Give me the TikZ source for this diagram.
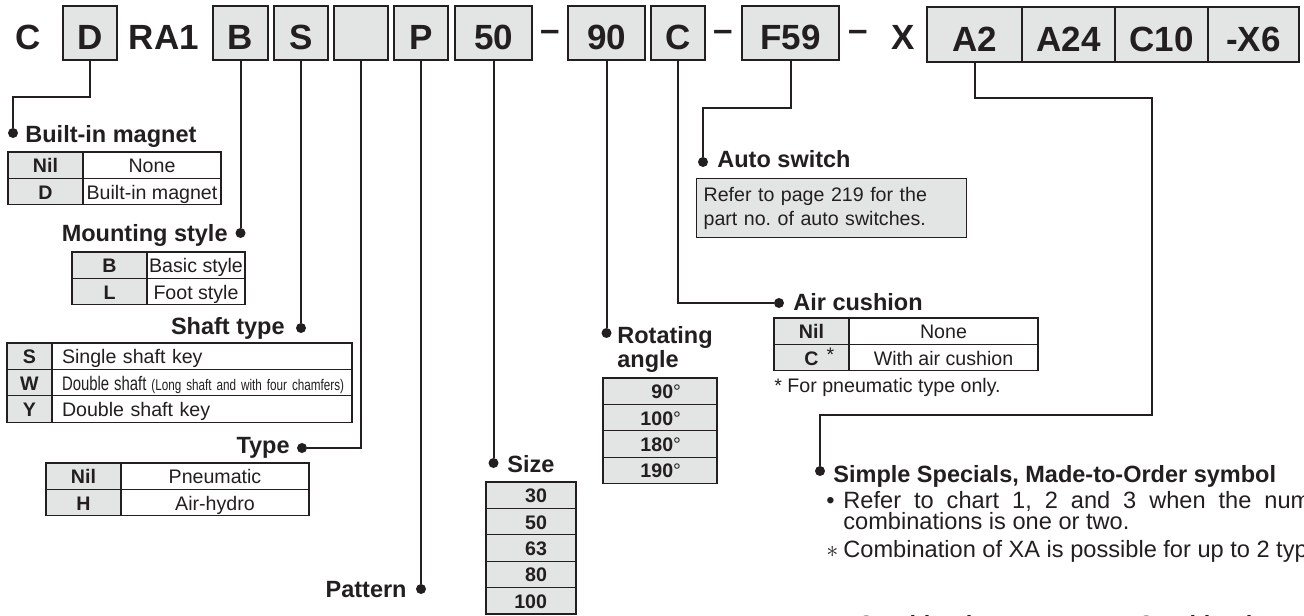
\documentclass[tikz,border=0pt]{standalone}
\usepackage{fontspec}
\setmainfont{Liberation Sans}
\usetikzlibrary{positioning}
\definecolor{smcink}{RGB}{35,31,32}
\definecolor{smcgray}{RGB}{227,228,228}
\newcommand{\codefont}{\fontsize{17.5}{20}\selectfont\bfseries}
\newcommand{\headfont}{\fontsize{11.75}{14}\selectfont\bfseries}
\newcommand{\tabfont}{\fontsize{9.8}{12}\selectfont}
\newcommand{\bodyfont}{\fontsize{11.8}{14}\selectfont}
\frenchspacing

\begin{document}
\begin{tikzpicture}[x=0.5pt, y=-0.5pt, color=smcink,
    codebox/.style={draw, fill=smcgray, line width=0.8pt, minimum height=27pt,
      inner sep=0pt, outer sep=0pt, text height=17pt, text depth=0pt, font=\codefont},
    codetxt/.style={inner sep=0pt, text height=17pt, text depth=0pt, font=\codefont},
    xcell/.style={codebox, line width=0.6pt, minimum height=27.5pt},
    conn/.style={line width=1pt},
    dot/.style={circle, fill, inner sep=0pt, minimum size=5pt},
    head/.style={inner sep=0pt, font=\headfont},
    keycell/.style={draw, fill=smcgray, line width=0.6pt, minimum height=13.2pt,
      inner sep=0pt, outer sep=0pt, text height=8.5pt, text depth=1pt, font=\tabfont\bfseries},
    valcell/.style={keycell, fill=white, font=\tabfont},
    topline/.style={line width=1.1pt},
    note/.style={inner sep=0pt, font=\tabfont, anchor=base west},
    body/.style={inner sep=0pt, font=\bodyfont, anchor=base west}
  ]
  \useasboundingbox (0,0) rectangle (1304,615);
  \clip (0,0) rectangle (1304,615);
  \fill[white] (0,0) rectangle (1304,615);

  % part number
  \node[codetxt] (tC) at (28,33) {C};
  \node[codebox, minimum width=27pt] (bD) at (90,33) {D};
  \node[codetxt] (tRA) at (164,33) {RA1};
  \node[codebox, minimum width=27.5pt] (bB) at (240.5,33) {B};
  \node[codebox, minimum width=27pt] (bS) at (301,33) {S};
  \node[codebox, minimum width=27pt] (bT) at (361,33) {};
  \node[codebox, minimum width=27pt] (bP) at (421,33) {P};
  \node[codebox, minimum width=38.5pt] (b50) at (493.5,33) {50};
  \node[codetxt, anchor=base] (h1) at (550,42) {–};
  \node[codebox, minimum width=38.5pt] (b90) at (606.5,33) {90};
  \node[codebox, minimum width=27pt] (bC) at (678,33) {C};
  \node[codetxt, anchor=base] (h2) at (723,42) {–};
  \node[codebox, minimum width=48.5pt] (bF) at (790.5,33) {F59};
  \node[codetxt, anchor=base] (h3) at (858,42) {–};
  \node[codetxt] (tX) at (903,33) {X};
  \node[xcell, minimum width=47.5pt] (xA2) at (974.5,34.5) {A2};
  \node[xcell, minimum width=46.5pt, right=0pt of xA2] (xA24) {A24};
  \node[xcell, minimum width=46.5pt, right=0pt of xA24] (xC10) {C10};
  \node[xcell, minimum width=45.5pt, right=0pt of xC10] (xX6) {-X6};
  \draw[line width=1.4pt] (xA2.north west) rectangle (xX6.south east);

  % leader ends
  \node[dot] (dBM) at (13,133) {};
  \node[dot] (dMS) at (240.5,233) {};
  \node[dot] (dST) at (301,328) {};
  \node[dot] (dTY) at (302,448) {};
  \node[dot] (dPA) at (421,589) {};
  \node[dot] (dSZ) at (493.5,463) {};
  \node[dot] (dRA) at (606.5,333) {};
  \node[dot] (dAC) at (779,303) {};
  \node[dot] (dAS) at (703,162) {};
  \node[dot] (dSS) at (820,471) {};
  \coordinate (kSS) at (1152,415);

  \draw[conn] (bD.south) -- ++(0,37) -| (dBM);
  \draw[conn] (bB.south) -- (dMS);
  \draw[conn] (bS.south) -- (dST);
  \draw[conn] (bT.south) |- (dTY);
  \draw[conn] (bP.south) -- (dPA);
  \draw[conn] (b50.south) -- (dSZ);
  \draw[conn] (b90.south) -- (dRA);
  \draw[conn] (bC.south) |- (dAC);
  \draw[conn] (bF.south) -- ++(0,48) -| (dAS);
  \draw[conn] (xA2.south) -- ++(0,36) -| (kSS) -| (dSS);

  % headings
  \node[head, anchor=base west] (hBM) at (25,142) {Built-in magnet};
  \node[head, anchor=base east] (hMS) at (228,241) {Mounting style};
  \node[head, anchor=base east] (hST) at (285,334) {Shaft type};
  \node[head, anchor=base east] (hTY) at (290,453) {Type};
  \node[head, anchor=base east] (hPA) at (407,597) {Pattern};
  \node[head, anchor=base west] (hSZ) at (507,472) {Size};
  \node[head, anchor=base west] (hRA) at (617,343) {Rotating};
  \node[head, anchor=base west] (hRA2) at (617,367) {angle};
  \node[head, anchor=base west] (hAS) at (717,167) {Auto switch};
  \node[head, anchor=base west] (hAC) at (793,310) {Air cushion};
  \node[head, anchor=base west] (hSS) at (833,482) {Simple Specials, Made-to-Order symbol};

  % built-in magnet
  \foreach \k/\v [count=\i] in {Nil/None, D/Built-in magnet} {
    \node[keycell, minimum width=37.5pt] (bmk\i) at (45.5,138.8+26.4*\i) {\k};
    \node[valcell, minimum width=69pt, right=0pt of bmk\i] (bmv\i) {\v};
  }
  \draw[topline] (bmk1.north west) -- (bmv1.north east);

  % mounting style
  \foreach \k/\v [count=\i] in {B/Basic style, L/Foot style} {
    \node[keycell, minimum width=37.5pt] (msk\i) at (109.5,238.8+26.4*\i) {\k};
    \node[valcell, minimum width=49pt, right=0pt of msk\i] (msv\i) {\v};
  }
  \draw[topline] (msk1.north west) -- (msv1.north east);

  % shaft type
  \foreach \k/\v [count=\i] in {S/Single shaft key,
      W/{\scalebox{0.76}[1]{Double shaft {\fontsize{7.7}{9}\selectfont(Long shaft and with four chamfers)}}},
      Y/Double shaft key} {
    \node[keycell, minimum width=22.5pt] (stk\i) at (29.5,329.8+26.4*\i) {\k};
    \node[valcell, text width=140pt, inner xsep=5pt, align=left, right=0pt of stk\i] (stv\i) {\v};
  }
  \draw[topline] (stk1.north west) -- (stv1.north east);

  % type
  \foreach \k/\v [count=\i] in {Nil/Pneumatic, H/Air-hydro} {
    \node[keycell, minimum width=37.5pt] (tyk\i) at (83.5,449.8+26.4*\i) {\k};
    \node[valcell, minimum width=94pt, right=0pt of tyk\i] (tyv\i) {\v};
  }
  \draw[topline] (tyk1.north west) -- (tyv1.north east);

  % size
  \foreach \s [count=\i] in {30,50,63,80,100} {
    \node[keycell, minimum width=45pt] (szk\i) at (531,468.8+26.4*\i) {\makebox[45pt][r]{\s\hspace{14.5pt}}};
  }
  \draw[topline] (szk1.north west) -- (szk1.north east);

  % rotating angle
  \foreach \a [count=\i] in {90,100,180,190} {
    \node[keycell, minimum width=57pt] (rak\i) at (660,364.8+26.4*\i) {\makebox[57pt][r]{\a\textnormal{°}\hspace{18pt}}};
  }
  \draw[topline] (rak1.north west) -- (rak1.north east);

  % air cushion
  \node[keycell, minimum width=37.5pt] (ack1) at (811.5,331.2) {Nil};
  \node[valcell, minimum width=94.5pt, right=0pt of ack1] (acv1) {None};
  \node[keycell, minimum width=37.5pt, below=0pt of ack1] (ack2) {C\rlap{\hspace{4pt}\raisebox{2pt}{\normalfont *}}};
  \node[valcell, minimum width=94.5pt, right=0pt of ack2] (acv2) {With air cushion};
  \draw[topline] (ack1.north west) -- (acv1.north east);
  \node[note] (nAC) at (774,392) {* For pneumatic type only.};

  % auto switch
  \node[draw, fill=smcgray, line width=0.6pt, inner xsep=3.5pt, text width=128pt,
    minimum height=29.5pt, font=\tabfont, align=left, anchor=north west] (asbox) at (696,178)
    {\makebox[127pt][s]{Refer to page 219 for the}\\part no. of auto switches.};

  % simple specials
  \node[body] (ssb1) at (826,508) {\textbullet};
  \node[body] (ss1) at (843,508) {\makebox[233.5pt][s]{Refer to chart 1, 2 and 3 when the num}};
  \node[body] (ss2) at (843,529) {combinations is one or two.};
  \node[body] (ssb3) at (826,557) {$\ast$};
  \node[body] (ss3) at (843,557) {Combination of XA is possible for up to 2 typ};
  \node[head, anchor=base west] (cb1) at (857,632) {Combination};
  \node[head, anchor=base west] (cb2) at (1137,632) {Combination};
\end{tikzpicture}
\end{document}
